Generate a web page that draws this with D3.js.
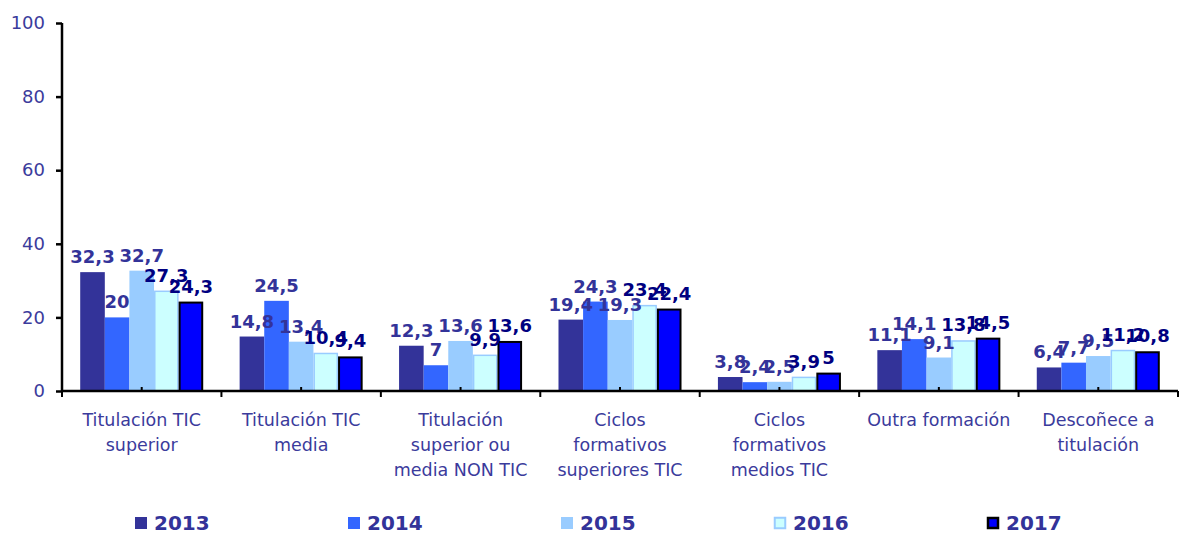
<!DOCTYPE html>
<html>
<head>
<meta charset="utf-8">
<script src="https://cdn.jsdelivr.net/npm/d3@7"></script>
<style>
  html, body { margin: 0; padding: 0; background: #fff; }
  svg { display: block; font-family: "DejaVu Sans", Verdana, sans-serif; }
</style>
</head>
<body>
<svg id="chart" width="1179" height="535"></svg>
<script>
const categories = [
  "Titulación TIC\nsuperior",
  "Titulación TIC\nmedia",
  "Titulación\nsuperior ou\nmedia NON TIC",
  "Ciclos\nformativos\nsuperiores TIC",
  "Ciclos\nformativos\nmedios TIC",
  "Outra formación",
  "Descoñece a\ntitulación"
];
const seriesNames = ["2013", "2014", "2015", "2016", "2017"];
const values2013 = [32.3, 14.8, 12.3, 19.4, 3.8, 11.1, 6.4];
const values2014 = [20, 24.5, 7, 24.3, 2.4, 14.1, 7.7];
const values2015 = [32.7, 13.4, 13.6, 19.3, 2.5, 9.1, 9.5];
const values2016 = [27.3, 10.4, 9.9, 23.4, 3.9, 13.8, 11.2];
const values2017 = [24.3, 9.4, 13.6, 22.4, 5, 14.5, 10.8];
const yTicks = [0, 20, 40, 60, 80, 100];

(function () {
const seriesValues = [values2013, values2014, values2015, values2016, values2017];
const fills = ["#333399", "#3366FF", "#99CCFF", "#CCFFFF", "#0000FF"];
const strokes = [null, null, null, "#99CCFF", "#000000"];
const strokeW = [0, 0, 0, 1.5, 2];
const labelColors = ["#333399", "#333399", "#333399", "#000080", "#000080"];
const tickColor = "#3B3B9C";

const svg = d3.select("#chart");
const mLeft = 62, mRight = 1178, mTop = 23, mBottom = 391;

const x = d3.scaleBand().domain(d3.range(categories.length)).range([mLeft, mRight]).padding(0);
const xi = d3.scaleBand().domain(d3.range(seriesNames.length)).range([0, x.bandwidth()])
  .paddingInner(0).paddingOuter(0.74);
const y = d3.scaleLinear().domain([0, 100]).range([mBottom, mTop]);

// bars
seriesNames.forEach((s, si) => {
  const sw = strokeW[si];
  svg.append("g").selectAll("rect")
    .data(seriesValues[si])
    .join("rect")
    .attr("x", (d, i) => x(i) + xi(si) + sw / 2)
    .attr("y", d => y(d) + sw / 2)
    .attr("width", xi.bandwidth() - sw)
    .attr("height", d => y(0) - y(d) - sw / 2)
    .attr("fill", fills[si])
    .attr("stroke", strokes[si] || "none")
    .attr("stroke-width", sw);
});

// y axis
const yAxis = d3.axisLeft(y).tickValues(yTicks).tickSize(6).tickPadding(11).tickFormat(d3.format("d"));
const gy = svg.append("g").attr("transform", `translate(${mLeft},0)`).call(yAxis);
gy.select(".domain").attr("stroke", "#000").attr("stroke-width", 2.5).attr("d", `M0,${mTop}V${mBottom}`);
gy.selectAll(".tick line").attr("stroke", "#000").attr("stroke-width", 2.5);
gy.selectAll(".tick text").attr("fill", tickColor).style("font-size", "18px")
  .style("font-family", "DejaVu Sans, Verdana, sans-serif");

// x axis line and ticks
const gx = svg.append("g");
gx.append("line").attr("x1", mLeft).attr("x2", mRight).attr("y1", mBottom).attr("y2", mBottom)
  .attr("stroke", "#000").attr("stroke-width", 2.5);
const boundaries = d3.range(categories.length + 1).map(i => i < categories.length ? x(i) : mRight);
gx.selectAll(".bt").data(boundaries).join("line")
  .attr("x1", d => d).attr("x2", d => d).attr("y1", mBottom).attr("y2", mBottom + 6)
  .attr("stroke", "#000").attr("stroke-width", 2);
gx.selectAll(".ct").data(d3.range(categories.length)).join("line")
  .attr("x1", i => x(i) + x.bandwidth() / 2).attr("x2", i => x(i) + x.bandwidth() / 2)
  .attr("y1", mBottom).attr("y2", mBottom - 4)
  .attr("stroke", "#000").attr("stroke-width", 2);

// category labels
const catG = svg.append("g");
categories.forEach((c, i) => {
  const cx = x(i) + x.bandwidth() / 2;
  const t = catG.append("text")
    .attr("x", cx)
    .attr("y", 426)
    .attr("text-anchor", "middle")
    .attr("fill", tickColor)
    .style("font-size", "17.5px");
  c.split("\n").forEach((line, li) => {
    t.append("tspan").attr("x", cx).attr("dy", li === 0 ? 0 : 25).text(line);
  });
});

// data labels
seriesNames.forEach((s, si) => {
  svg.append("g").selectAll("text")
    .data(seriesValues[si])
    .join("text")
    .attr("x", (d, i) => x(i) + xi(si) + xi.bandwidth() / 2)
    .attr("y", d => y(d) - 9)
    .attr("text-anchor", "middle")
    .attr("fill", labelColors[si])
    .style("font-size", "18px")
    .style("font-weight", "bold")
    .text(d => String(d).replace(".", ","));
});

// legend
const lg = svg.append("g");
const legendX = d3.scaleLinear().domain([0, seriesNames.length - 1]).range([135, 987]);
seriesNames.forEach((s, si) => {
  const lx = legendX(si);
  const sw = strokeW[si];
  lg.append("rect")
    .attr("x", lx + sw / 2)
    .attr("y", 517 + sw / 2)
    .attr("width", 12 - sw)
    .attr("height", 12 - sw)
    .attr("fill", fills[si])
    .attr("stroke", strokes[si] || "none")
    .attr("stroke-width", sw ? sw + 0.5 : 0);
  lg.append("text")
    .attr("x", lx + 19)
    .attr("y", 530)
    .attr("fill", "#333399")
    .style("font-size", "20px")
    .style("font-weight", "bold")
    .text(s);
});
})();
</script>
</body>
</html>
